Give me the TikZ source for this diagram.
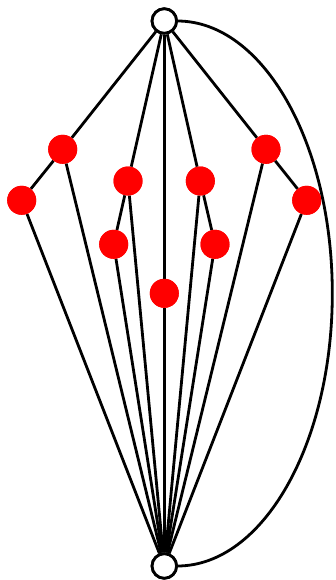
\documentclass[tikz,border=0pt]{standalone}
\begin{document}
\begin{tikzpicture}[x=1pt,y=-1pt,
  wnode/.style={circle,draw=black,fill=white,line width=2.8pt,minimum size=24.5pt,inner sep=0pt},
  rnode/.style={circle,fill=red,minimum size=29pt,inner sep=0pt},
  edge/.style={line width=2.8pt,black}]
\useasboundingbox (0,0) rectangle (335,580);
\node[wnode] (t) at (164.3,21) {};
\node[wnode] (b) at (164.3,566) {};
\node[rnode] (a1) at (62.7,149.3) {};
\node[rnode] (a2) at (21.7,200.3) {};
\node[rnode] (c1) at (128,181) {};
\node[rnode] (c2) at (113.7,244.3) {};
\node[rnode] (m) at (164.3,293.3) {};
\node[rnode] (d1) at (200.3,181) {};
\node[rnode] (d2) at (215,244.3) {};
\node[rnode] (e1) at (266,149.3) {};
\node[rnode] (e2) at (306.7,200.3) {};
\draw[edge] (t) -- (a1); \draw[edge] (a1) -- (a2);
\draw[edge] (a1) -- (b); \draw[edge] (a2) -- (b);
\draw[edge] (t) -- (c1); \draw[edge] (c1) -- (c2);
\draw[edge] (c1) -- (b); \draw[edge] (c2) -- (b);
\draw[edge] (t) -- (m); \draw[edge] (m) -- (b);
\draw[edge] (t) -- (d1); \draw[edge] (d1) -- (d2);
\draw[edge] (d1) -- (b); \draw[edge] (d2) -- (b);
\draw[edge] (t) -- (e1); \draw[edge] (e1) -- (e2);
\draw[edge] (e1) -- (b); \draw[edge] (e2) -- (b);
\draw[edge] (t.center) ++(13,0) arc[start angle=-90,end angle=90,x radius=155,y radius=272.5];
\node[wnode] at (t) {};
\node[wnode] at (b) {};
\node[rnode] at (a1) {};
\node[rnode] at (a2) {};
\node[rnode] at (c1) {};
\node[rnode] at (c2) {};
\node[rnode] at (m) {};
\node[rnode] at (d1) {};
\node[rnode] at (d2) {};
\node[rnode] at (e1) {};
\node[rnode] at (e2) {};
\end{tikzpicture}
\end{document}
